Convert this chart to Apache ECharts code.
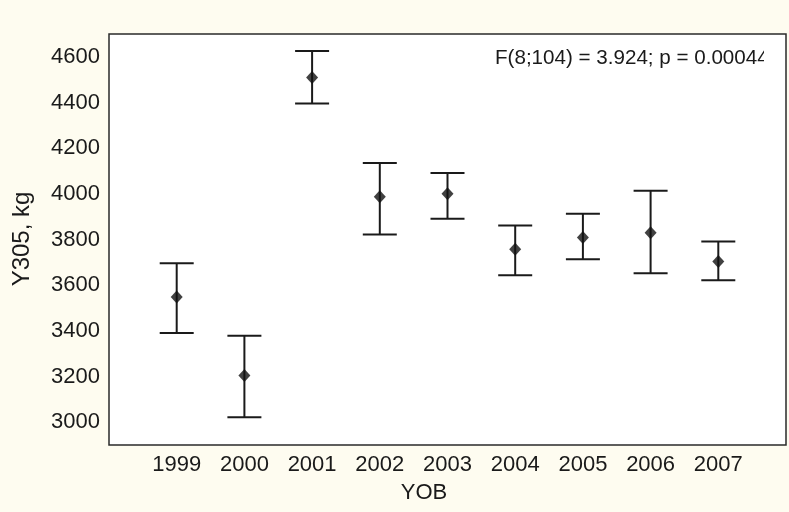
<!DOCTYPE html>
<html>
<head>
<meta charset="utf-8">
<script src="https://cdn.jsdelivr.net/npm/echarts@6/dist/echarts.min.js"></script>
<style>
html,body{margin:0;padding:0;background:#fefcf0;}
#c{width:789px;height:512px;}
</style>
</head>
<body>
<div id="c"></div>
<script>
var years = [1999, 2000, 2001, 2002, 2003, 2004, 2005, 2006, 2007];
var means = [3548, 3204, 4509, 3987, 4000, 3757, 3809, 3830, 3704];
var lower = [3391, 3022, 4396, 3822, 3891, 3643, 3713, 3652, 3622];
var upper = [3696, 3378, 4626, 4135, 4091, 3861, 3913, 4013, 3791];
var yTicks = [3000, 3200, 3400, 3600, 3800, 4000, 4200, 4400, 4600];
var statText = 'F(8;104) = 3.924; p = 0.00044';
var xTitle = 'YOB';
var yTitle = 'Y305, kg';

var FONT = 'Liberation Sans, Arial, sans-serif';
var chart = echarts.init(document.getElementById('c'));

var barData = years.map(function (y, i) { return [y, lower[i], upper[i]]; });
var meanData = years.map(function (y, i) { return [y, means[i]]; });

chart.setOption({
  backgroundColor: '#fefcf0',
  animation: false,
  grid: {
    left: 109, right: 3, top: 34, bottom: 67,
    show: true, backgroundColor: '#ffffff', borderColor: '#2a2a2a', borderWidth: 1.5
  },
  xAxis: {
    type: 'value', min: 1998, max: 2008, interval: 1,
    axisLine: { show: false }, axisTick: { show: false }, splitLine: { show: false },
    axisLabel: {
      margin: 9, fontSize: 22, color: '#1a1a1a', fontFamily: FONT,
      formatter: function (v) { return years.indexOf(v) >= 0 ? String(v) : ''; }
    }
  },
  yAxis: {
    type: 'value', min: 2900, max: 4700, interval: 100,
    axisLine: { show: false }, axisTick: { show: false }, splitLine: { show: false },
    axisLabel: {
      margin: 9, fontSize: 22, color: '#1a1a1a', fontFamily: FONT,
      formatter: function (v) { return yTicks.indexOf(v) >= 0 ? String(v) : ''; }
    }
  },
  graphic: [
    { type: 'text', left: 495, top: 48, z: 10,
      style: { text: statText, font: '20.6px ' + FONT, fill: '#1a1a1a' } },
    { type: 'rect', left: 764, top: 44, z: 11,
      shape: { width: 20, height: 32 }, style: { fill: '#ffffff' } },
    { type: 'text', x: 424, y: 493, z: 10,
      style: { text: xTitle, font: '22px ' + FONT, fill: '#1a1a1a', textAlign: 'center', textVerticalAlign: 'middle' } },
    { type: 'text', x: 22, y: 239, rotation: Math.PI / 2, z: 10,
      style: { text: yTitle, font: '24px ' + FONT, fill: '#1a1a1a', textAlign: 'center', textVerticalAlign: 'middle' } }
  ],
  series: [
    {
      type: 'custom',
      data: barData,
      renderItem: function (params, api) {
        var x = api.value(0);
        var lo = api.coord([x, api.value(1)]);
        var hi = api.coord([x, api.value(2)]);
        var hw = 17;
        var st = { stroke: '#1a1a1a', lineWidth: 2 };
        return {
          type: 'group',
          children: [
            { type: 'line', shape: { x1: hi[0], y1: hi[1], x2: lo[0], y2: lo[1] }, style: st },
            { type: 'line', shape: { x1: hi[0] - hw, y1: hi[1], x2: hi[0] + hw, y2: hi[1] }, style: st },
            { type: 'line', shape: { x1: lo[0] - hw, y1: lo[1], x2: lo[0] + hw, y2: lo[1] }, style: st }
          ]
        };
      },
      z: 2
    },
    {
      type: 'scatter',
      data: meanData,
      symbol: 'diamond',
      symbolSize: [12, 13],
      itemStyle: { color: '#111111' },
      z: 3
    }
  ]
});
</script>
</body>
</html>
